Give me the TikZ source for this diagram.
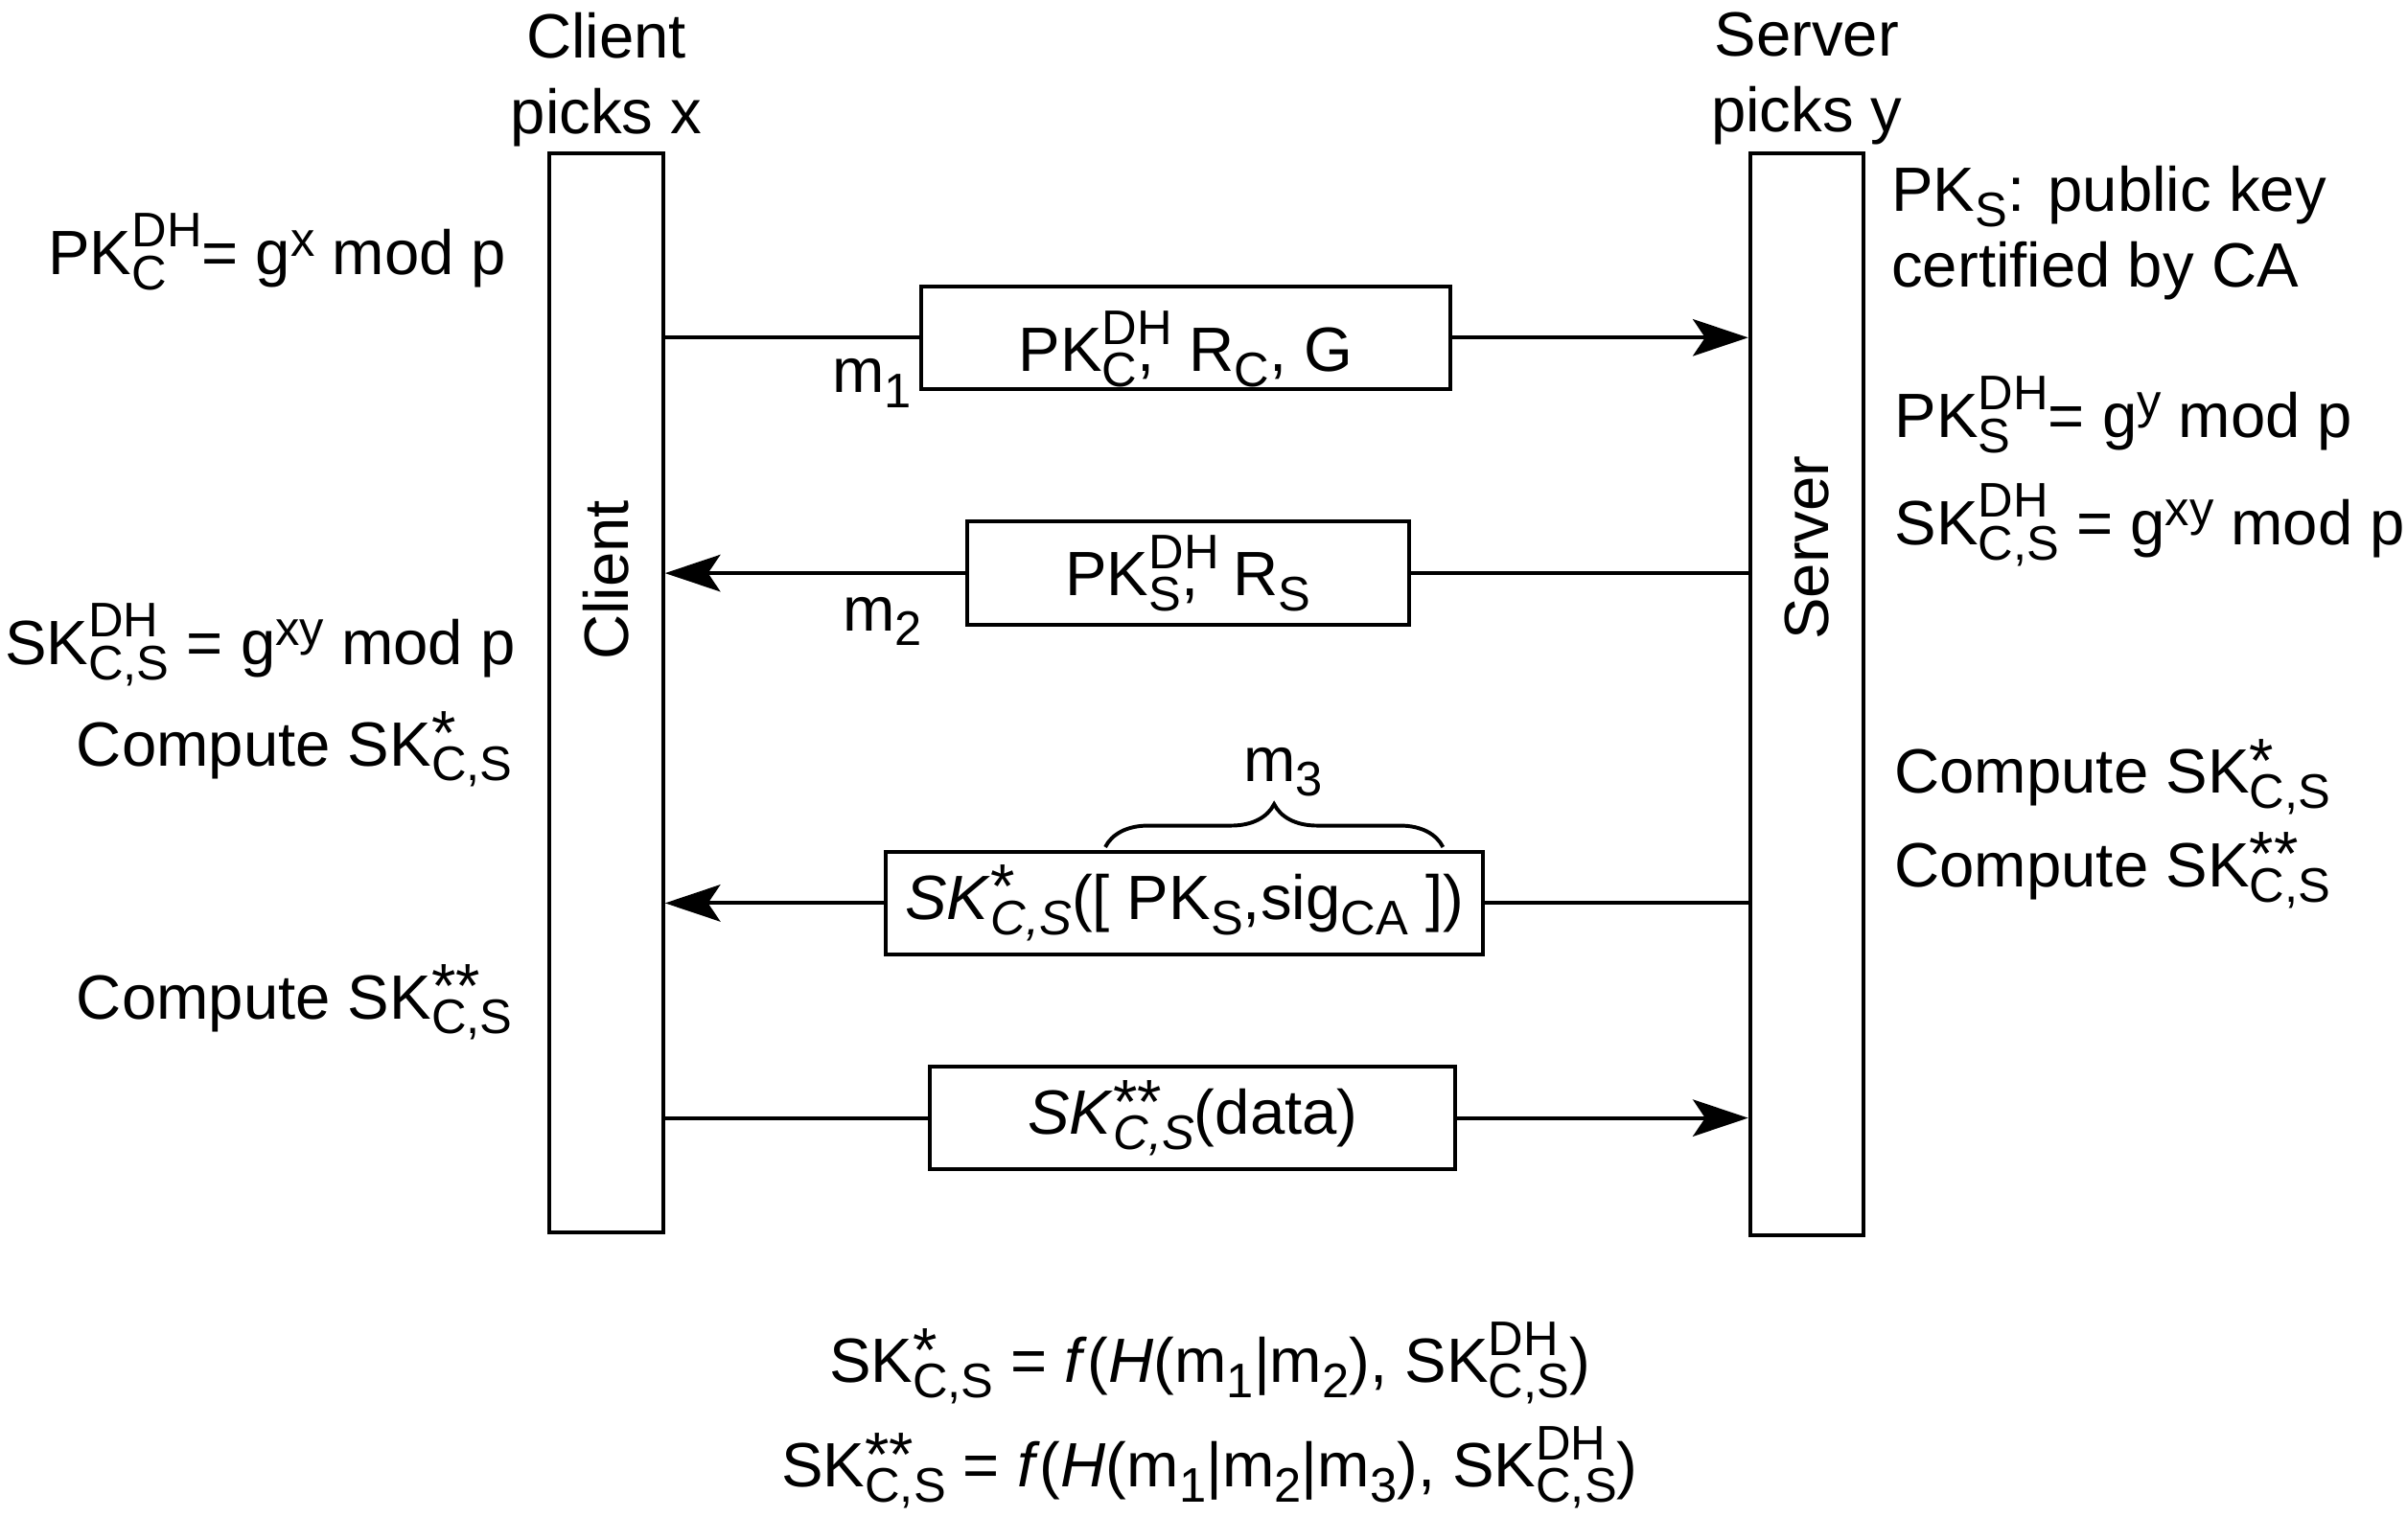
\documentclass[tikz,border=0pt]{standalone}
\usepackage{fontspec}
\setmainfont{Liberation Sans}
\usepackage{tikz}
\usetikzlibrary{arrows.meta}
\usetikzlibrary{decorations.pathreplacing}
\newsavebox\supbox
\newsavebox\subbox
\newcommand{\scr}{\fontsize{9}{9}\selectfont}
\newcommand{\stk}[2]{\sbox\supbox{#1}\sbox\subbox{#2}\rlap{\usebox\supbox}\usebox\subbox\ifdim\wd\supbox>\wd\subbox\kern\dimexpr\wd\supbox-\wd\subbox\relax\fi}
\newcommand{\ud}[2]{\stk{\raisebox{0.44em}{\scr #1}}{\raisebox{-0.24em}{\scr #2}}}
\newcommand{\udl}[2]{\rlap{\raisebox{0.44em}{\scr #1}}\raisebox{-0.24em}{\scr #2}}
\newcommand{\st}[2]{\stk{\raisebox{0.18em}{#1}}{\raisebox{-0.24em}{\scr #2}}}
\newcommand{\dn}[1]{\raisebox{-0.24em}{\scr #1}}
\newcommand{\up}[1]{\raisebox{0.3em}{\scr #1}}

\begin{document}
\begin{tikzpicture}[y=-1cm, line width=0.7pt, font=\fontsize{11.6}{14}\selectfont,
		txt/.style={inner sep=0pt},
		party/.style={draw, minimum width=0.74cm, inner sep=0pt},
		msgbox/.style={draw, minimum height=0.67cm, inner sep=0pt},
		msg/.style={-{Stealth[length=0.36cm,width=0.24cm,inset=0.08cm]}}]
	\useasboundingbox (0,0) rectangle (15.68,10.03);

	\def\clx{3.95}
	\def\svx{11.77}

	\node[party, minimum height=7.03cm] (client) at (\clx,4.515) {};
	\node[txt, rotate=90] (clientlbl) at (\clx,3.78) {Client};
	\node[party, minimum height=7.05cm] (server) at (\svx,4.525) {};
	\node[txt, rotate=90] (serverlbl) at (\svx,3.57) {Server};

	\node[txt, align=center, anchor=north] (clienttitle) at (\clx,0.07) {Client\\picks x};
	\node[txt, align=center, anchor=north] (servertitle) at (\svx,0.07) {Server\\picks y};

	\node[txt, anchor=base east] (pkc) at (3.31,1.79) {PK\ud{DH}{C}= g\up{x} mod p};
	\node[txt, anchor=base east] (skcl) at (3.37,4.33) {SK\ud{DH}{C,S} = g\up{xy} mod p};
	\node[txt, anchor=base east] (cmponel) at (3.35,4.99) {Compute SK\st{*}{C,S}};
	\node[txt, anchor=base east] (cmptwol) at (3.35,6.64) {Compute SK\st{**}{C,S}};

	\node[txt, align=left, anchor=north west] (pks) at (12.31,1.07) {PK\dn{S}: public key\\certified by CA};
	\node[txt, anchor=base west] (pksdh) at (12.33,2.85) {PK\ud{DH}{S}= g\up{y} mod p};
	\node[txt, anchor=base west] (skcr) at (12.33,3.55) {SK\ud{DH}{C,S} = g\up{xy} mod p};
	\node[txt, anchor=base west] (cmpr) at (12.33,5.17) {Compute SK\st{*}{C,S}};
	\node[txt, anchor=base west] (cmptwor) at (12.33,5.78) {Compute SK\st{**}{C,S}};

	\node[msgbox, minimum width=3.45cm, text height=14pt, text depth=1.4pt] (mone) at (7.725,2.20) {PK\udl{DH}{C},\ \ R\dn{C}, G};
	\draw (client.east |- mone.west) -- (mone.west);
	\draw[msg] (mone.east) -- (server.west |- mone.east);
	\node[txt, anchor=base east] (monelbl) at (5.95,2.56) {m\dn{1}};

	\node[msgbox, minimum width=2.88cm] (mtwo) at (7.74,3.735) {PK\udl{DH}{S},\ \ R\dn{S}};
	\draw[msg] (mtwo.west) -- (client.east |- mtwo.west);
	\draw (server.west |- mtwo.east) -- (mtwo.east);
	\node[txt, anchor=base east] (mtwolbl) at (6.02,4.11) {m\dn{2}};

	\node[msgbox, minimum width=3.89cm] (mthree) at (7.715,5.885) {\textit{SK}\st{*}{\textit{C,S}}([ PK\dn{S},sig\dn{CA} ])};
	\draw[msg] (mthree.west) -- (client.east |- mthree.west);
	\draw (server.west |- mthree.east) -- (mthree.east);
	\draw[decorate, decoration={brace, amplitude=0.28cm}] (7.20,5.52) -- (9.40,5.52);
	\node[txt, anchor=base] (mthreelbl) at (8.36,5.09) {m\dn{3}};

	\node[msgbox, minimum width=3.42cm] (mfour) at (7.77,7.285) {\textit{SK}\st{**}{\textit{C,S}}(data)};
	\draw (client.east |- mfour.west) -- (mfour.west);
	\draw[msg] (mfour.east) -- (server.west |- mfour.east);

	\node[txt, anchor=base] (fone) at (7.88,9.01) {SK\st{*}{C,S} = \textit{f}(\textit{H}(m\dn{1}|m\dn{2}), SK\ud{DH}{C,S})};
	\node[txt, anchor=base] (ftwo) at (7.88,9.69) {SK\st{**}{C,S} = \textit{f}(\textit{H}(m\dn{1}|m\dn{2}|m\dn{3}), SK\ud{DH}{C,S})};
\end{tikzpicture}
\end{document}
